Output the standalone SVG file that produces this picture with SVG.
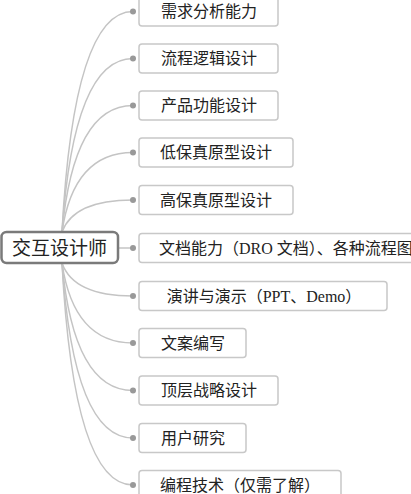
<svg xmlns="http://www.w3.org/2000/svg" width="411" height="494" viewBox="0 0 411 494">
<style>
.bg{fill:#ffffff}
.box{fill:#ffffff;stroke:#c8c8c8;stroke-width:1.5}
.root{fill:#ffffff;stroke:#7a7a7a;stroke-width:2.5}
.lbl{font-family:"Liberation Serif","Noto Sans CJK SC",serif;font-size:16px;fill:#222;text-anchor:middle}
.lbl.start{text-anchor:start}
.rootlbl{font-family:"Noto Sans CJK SC",sans-serif;font-size:19px;fill:#222;text-anchor:middle}
.con path,.con line{fill:none;stroke:#c4c4c4;stroke-width:1.5}
.dot{fill:#999}
</style>
<rect class="bg" x="0" y="0" width="411" height="494"/>
<g id="connectors" class="con">
<path d="M62,232 C69,100 90,11.5 133,11.5"/>
<path d="M62,232 C69,128 90,58.5 133,58.5"/>
<path d="M62,232 C69,156 90,105.5 133,105.5"/>
<path d="M62,232 C69,184 90,152.5 133,152.5"/>
<path d="M62,232 C69,213 90,200 133,200"/>
<line x1="118" y1="248" x2="133" y2="248"/>
<path d="M62,263 C69,283 90,296 133,296"/>
<path d="M62,263 C69,311 90,343 133,343"/>
<path d="M62,263 C69,340 90,390.5 133,390.5"/>
<path d="M62,263 C69,368 90,438 133,438"/>
<path d="M62,263 C69,396 90,485 133,485"/>
<g class="dot" style="stroke:none">
<circle class="dot" cx="133" cy="11.5" r="3"/>
<circle class="dot" cx="133" cy="58.5" r="3"/>
<circle class="dot" cx="133" cy="105.5" r="3"/>
<circle class="dot" cx="133" cy="152.5" r="3"/>
<circle class="dot" cx="133" cy="200" r="3"/>
<circle class="dot" cx="133" cy="248" r="3"/>
<circle class="dot" cx="133" cy="296" r="3"/>
<circle class="dot" cx="133" cy="343" r="3"/>
<circle class="dot" cx="133" cy="390.5" r="3"/>
<circle class="dot" cx="133" cy="438" r="3"/>
<circle class="dot" cx="133" cy="485" r="3"/>
</g>
</g>
<g id="root">
<rect class="root" x="1.5" y="232" width="116.5" height="31" rx="5"/>
<text class="rootlbl" x="59.5" y="254.5">交互设计师</text>
</g>
<g id="n1"><rect class="box" x="139" y="-3" width="139" height="29" rx="3"/><text class="lbl" x="209" y="17">需求分析能力</text></g>
<g id="n2"><rect class="box" x="139" y="44" width="139" height="29" rx="3"/><text class="lbl" x="209" y="64">流程逻辑设计</text></g>
<g id="n3"><rect class="box" x="139" y="91" width="139" height="29" rx="3"/><text class="lbl" x="209" y="111">产品功能设计</text></g>
<g id="n4"><rect class="box" x="139" y="138" width="154" height="29" rx="3"/><text class="lbl" x="216" y="158">低保真原型设计</text></g>
<g id="n5"><rect class="box" x="139" y="185.5" width="154" height="29" rx="3"/><text class="lbl" x="216" y="205.5">高保真原型设计</text></g>
<g id="n6"><rect class="box" x="139" y="233.5" width="302" height="29" rx="3"/><text class="lbl start" x="159" y="253.5">文档能力（DRO 文档）、各种流程图</text></g>
<g id="n7"><rect class="box" x="139" y="281.5" width="248" height="29" rx="3"/><text class="lbl" x="264" y="301.5">演讲与演示（PPT、Demo）</text></g>
<g id="n8"><rect class="box" x="139" y="328.5" width="107" height="29" rx="3"/><text class="lbl" x="193" y="348.5">文案编写</text></g>
<g id="n9"><rect class="box" x="139" y="376" width="139" height="29" rx="3"/><text class="lbl" x="209" y="396">顶层战略设计</text></g>
<g id="n10"><rect class="box" x="139" y="423.5" width="107" height="29" rx="3"/><text class="lbl" x="193" y="443.5">用户研究</text></g>
<g id="n11"><rect class="box" x="139" y="470.5" width="202" height="29" rx="3"/><text class="lbl" x="240" y="490.5">编程技术（仅需了解）</text></g>
</svg>
